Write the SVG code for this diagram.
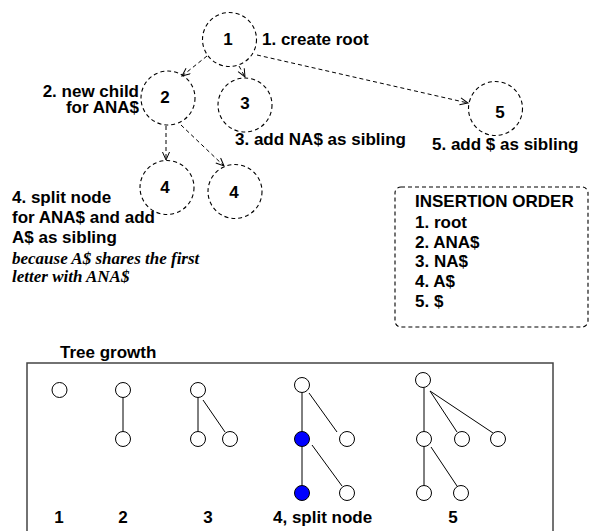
<svg xmlns="http://www.w3.org/2000/svg" width="590" height="531" viewBox="0 0 590 531">
<defs>
<marker id="arr" markerUnits="userSpaceOnUse" markerWidth="12" markerHeight="10" refX="9" refY="4" orient="auto">
<path d="M1,0.5 L9,4 L1,7.5" fill="none" stroke="#000" stroke-width="1"/>
</marker>
<style>
.dn{fill:none;stroke:#000;stroke-width:1.1;stroke-dasharray:4 3}
.dl{fill:none;stroke:#000;stroke-width:1;stroke-dasharray:4 3;marker-end:url(#arr)}
.t{font-family:"Liberation Sans",Arial,sans-serif;font-weight:bold;font-size:17px;fill:#000}
.c{text-anchor:middle}
.r{text-anchor:end}
.it{font-family:"Liberation Serif","Times New Roman",serif;font-weight:bold;font-style:italic;font-size:17px;fill:#000}
.sn{fill:#fff;stroke:#000;stroke-width:1}
.bn{fill:#0000ff;stroke:#000;stroke-width:1}
.ln{stroke:#000;stroke-width:1;fill:none}
</style>
</defs>
<rect width="590" height="531" fill="#fff"/>
<g id="connectors">
<line class="dl" x1="207" y1="56" x2="182" y2="76"/>
<line class="dl" x1="239" y1="66" x2="245" y2="77"/>
<line class="dl" x1="257" y1="55" x2="468" y2="103"/>
<line class="dl" x1="166" y1="126" x2="166" y2="160"/>
<line class="dl" x1="181" y1="125" x2="224" y2="166"/>
</g>
<g id="n1"><circle class="dn" cx="229.5" cy="39.5" r="27"/><text class="t c" x="228" y="45">1</text></g>
<g id="n2"><circle class="dn" cx="168" cy="98" r="27"/><text class="t c" x="165" y="103">2</text></g>
<g id="n3"><circle class="dn" cx="245" cy="105" r="27"/><text class="t c" x="245" y="109">3</text></g>
<g id="n5"><circle class="dn" cx="495.5" cy="108.5" r="27"/><text class="t c" x="500" y="118">5</text></g>
<g id="n4a"><circle class="dn" cx="167" cy="187.5" r="27"/><text class="t c" x="165" y="193">4</text></g>
<g id="n4b"><circle class="dn" cx="235" cy="191.5" r="27"/><text class="t c" x="234" y="198">4</text></g>
<g id="labels">
<text class="t" x="262" y="45">1. create root</text>
<text class="t r" x="139" y="97">2. new child</text>
<text class="t r" x="139" y="113">for ANA$</text>
<text class="t" x="235" y="145">3. add NA$ as sibling</text>
<text class="t" x="432" y="150">5. add $ as sibling</text>
<text class="t" x="12" y="203">4. split node</text>
<text class="t" x="12" y="223">for ANA$ and add</text>
<text class="t" x="12" y="243">A$ as sibling</text>
<text class="it" x="12" y="264">because A$ shares the first</text>
<text class="it" x="12" y="282">letter with ANA$</text>
</g>
<g id="insertion-order">
<rect x="395" y="187" width="193" height="140" rx="6" class="dn"/>
<text class="t" x="415" y="207">INSERTION ORDER</text>
<text class="t" x="415" y="228">1. root</text>
<text class="t" x="415" y="248">2. ANA$</text>
<text class="t" x="415" y="267">3. NA$</text>
<text class="t" x="415" y="287">4. A$</text>
<text class="t" x="415" y="307">5. $</text>
</g>
<g id="tree-growth">
<text class="t" x="60" y="358">Tree growth</text>
<rect x="27" y="363" width="526" height="175" fill="none" stroke="#444" stroke-width="1.5"/>
<g id="tree1">
<circle class="sn" cx="59.5" cy="390" r="7.5"/>
<text class="t c" x="59" y="523">1</text>
</g>
<g id="tree2">
<line class="ln" x1="123" y1="397.5" x2="123" y2="431.5"/>
<circle class="sn" cx="123" cy="390" r="7.5"/>
<circle class="sn" cx="123" cy="439" r="7.5"/>
<text class="t c" x="123" y="523">2</text>
</g>
<g id="tree3">
<line class="ln" x1="198" y1="397.5" x2="198" y2="431.5"/>
<line class="ln" x1="203" y1="400" x2="225" y2="432"/>
<circle class="sn" cx="198" cy="390" r="7.5"/>
<circle class="sn" cx="198" cy="439" r="7.5"/>
<circle class="sn" cx="230" cy="439" r="7.5"/>
<text class="t c" x="208" y="523">3</text>
</g>
<g id="tree4">
<line class="ln" x1="302" y1="392.5" x2="302" y2="431.5"/>
<line class="ln" x1="309" y1="393" x2="337" y2="432"/>
<line class="ln" x1="302" y1="446.5" x2="302" y2="485.5"/>
<line class="ln" x1="312" y1="445" x2="342" y2="486"/>
<circle class="sn" cx="302" cy="385" r="7.5"/>
<circle class="bn" cx="302" cy="439" r="7.5"/>
<circle class="sn" cx="347" cy="439" r="7.5"/>
<circle class="bn" cx="302" cy="493" r="7.5"/>
<circle class="sn" cx="347" cy="493" r="7.5"/>
<text class="t" x="273" y="523">4, split node</text>
</g>
<g id="tree5">
<line class="ln" x1="424" y1="387.5" x2="424" y2="431.5"/>
<line class="ln" x1="430" y1="391" x2="457" y2="432"/>
<line class="ln" x1="430" y1="391" x2="493" y2="433"/>
<line class="ln" x1="424" y1="446.5" x2="424" y2="485.5"/>
<line class="ln" x1="431" y1="447" x2="457" y2="486"/>
<circle class="sn" cx="423" cy="380" r="7.5"/>
<circle class="sn" cx="424" cy="439" r="7.5"/>
<circle class="sn" cx="462" cy="439" r="7.5"/>
<circle class="sn" cx="498" cy="439" r="7.5"/>
<circle class="sn" cx="424" cy="493" r="7.5"/>
<circle class="sn" cx="461" cy="493" r="7.5"/>
<text class="t c" x="453" y="523">5</text>
</g>
</g>
</svg>
